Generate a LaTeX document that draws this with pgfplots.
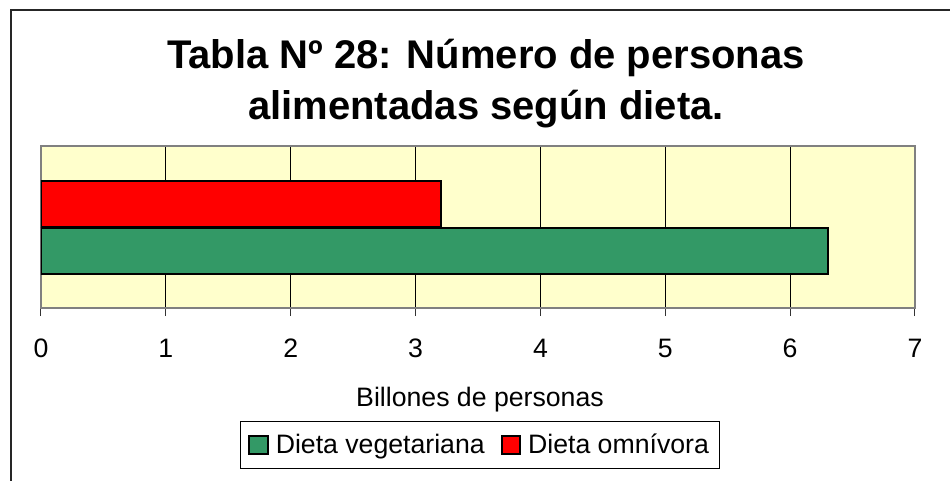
\documentclass[border=0pt]{standalone}
\usepackage{fontspec}
\setmainfont{Liberation Sans}
\usepackage{pgfplots}
\pgfplotsset{compat=1.18}
\definecolor{bgyellow}{HTML}{FFFFCC}
\definecolor{vegGreen}{HTML}{339966}
\definecolor{omniRed}{HTML}{FF0000}
\definecolor{frameGray}{HTML}{808080}
\begin{document}
\begin{tikzpicture}
\useasboundingbox (0,0) rectangle (712.5pt,-360.75pt);
% outer chart frame (cropped)
\draw[line width=1.4pt, color=black!85] (8.25pt,-360.75pt) -- (8.25pt,-7.5pt) -- (712.5pt,-7.5pt);
% title
\node[anchor=base, font=\fontsize{30}{36}\selectfont\bfseries, inner sep=0pt] at (364.5pt,-51.75pt) {Tabla Nº 28: Número de personas};
\node[anchor=base, font=\fontsize{30}{36}\selectfont\bfseries, inner sep=0pt] at (364.5pt,-90pt) {alimentadas según dieta.};
\begin{axis}[
  at={(30.75pt,-231pt)}, anchor=south west,
  scale only axis,
  width=655.5pt, height=121.5pt,
  xmin=0, xmax=7, ymin=0, ymax=162,
  xtick={0,1,2,3,4,5,6,7},
  ytick=\empty,
  xtick pos=bottom,
  tick align=outside,
  major tick length=6pt,
  every tick/.style={black!80, line width=0.75pt},
  xmajorgrids,
  major grid style={black, line width=0.75pt},
  axis line style={frameGray, line width=1.5pt},
  axis background/.style={fill=bgyellow},
  /pgf/number format/assume math mode=true,
  tick label style={font=\fontsize{20}{24}\selectfont},
  xticklabel style={anchor=base, yshift=-31pt},
  xlabel={Billones de personas},
  xlabel style={font=\fontsize{20}{24}\selectfont, at={(axis description cs:0.5023,-0.609)}, anchor=base, inner sep=0pt},
  xbar, bar shift=0pt, bar width=46,
  legend columns=2,
  legend style={at={(axis description cs:0.5023,-0.6975)}, anchor=north,
    draw=black, line width=0.75pt, font=\fontsize{20}{24}\selectfont,
    inner xsep=6pt, inner ysep=7.5pt,
    /tikz/every even column/.append style={column sep=10pt}},
  legend image code/.code={\draw[#1, line width=1.5pt] (0pt,-7pt) rectangle (14pt,7pt); \path (17pt,0pt);},
]
\addplot[fill=vegGreen, draw=black, line width=1.5pt] coordinates {(6.3,57.5)};
\addplot[fill=omniRed, draw=black, line width=1.5pt] coordinates {(3.2,104)};
\legend{Dieta vegetariana, Dieta omnívora}
\end{axis}
\end{tikzpicture}
\end{document}
